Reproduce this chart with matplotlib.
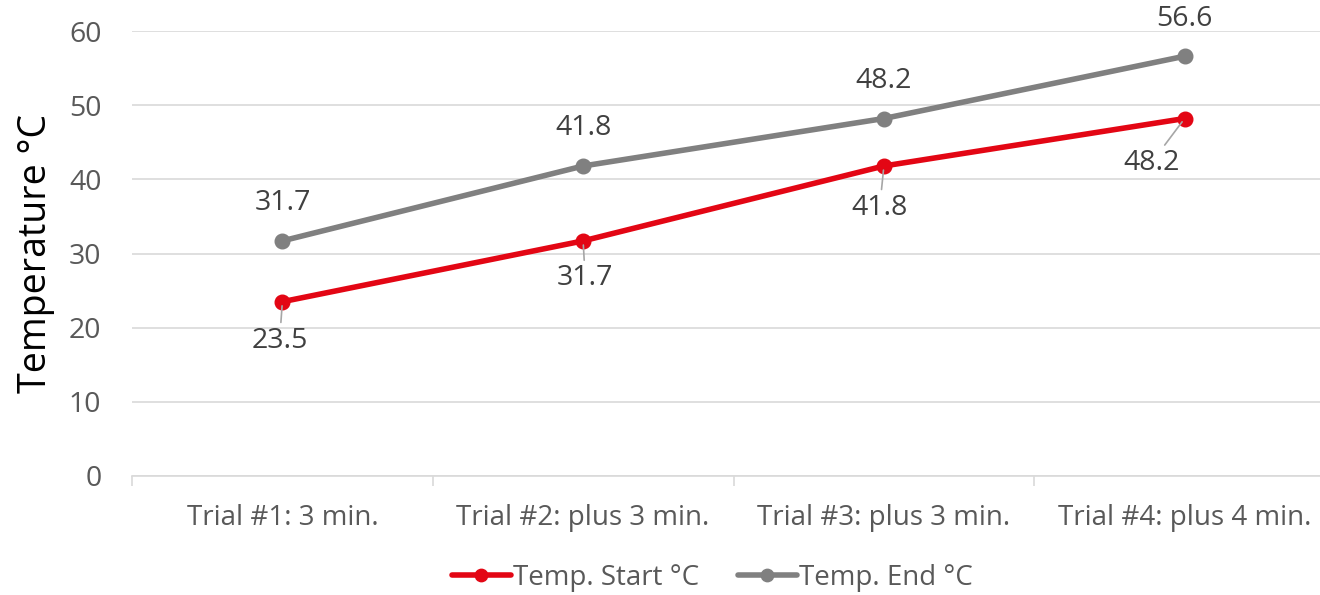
import matplotlib.pyplot as plt
import numpy as np

plt.rcParams['font.family'] = ['Open Sans', 'DejaVu Sans']

categories = ['Trial #1: 3 min.', 'Trial #2: plus 3 min.', 'Trial #3: plus 3 min.', 'Trial #4: plus 4 min.']
temp_start = [23.5, 31.7, 41.8, 48.2]
temp_end = [31.7, 41.8, 48.2, 56.6]

red = '#e30614'
grey = '#808080'
txt = '#595959'

fig = plt.figure(figsize=(13.2, 5.95), dpi=100)
ax = fig.add_axes([132/1320, 1-476/595, (1335-132)/1320, (476-31)/595])

x = np.arange(len(categories))
ax.plot(x, temp_start, color=red, lw=4, marker='o', ms=10.5, label='Temp. Start °C', solid_capstyle='round', zorder=3)
ax.plot(x, temp_end, color=grey, lw=4, marker='o', ms=10.5, label='Temp. End °C', solid_capstyle='round', zorder=3)

# labels over the end series
for xi, v in zip(x, temp_end):
    ax.annotate('%.1f' % v, (xi, v), xytext=(0, 27), textcoords='offset points',
                ha='center', va='center', fontsize=20.5, color='#404040')

# labels under the start series, with leader lines
offs = [(-2, -28), (1.5, -27), (-3, -30), (-24, -32)]
for xi, v, (dx, dy) in zip(x, temp_start, offs):
    ax.annotate('%.1f' % v, (xi, v), xytext=(dx, dy), textcoords='offset points',
                ha='center', va='center', fontsize=20.5, color='#404040',
                arrowprops=dict(arrowstyle='-', color='#a6a6a6', lw=1.2, shrinkA=1, shrinkB=3))

ax.set_xlim(-0.5, 3.5)
ax.set_ylim(0, 60)
ax.set_yticks(range(0, 61, 10))
ax.set_xticks(x)
ax.set_xticklabels(categories)
ax.set_xticks(np.arange(-0.5, 3.6, 1), minor=True)
ax.tick_params(axis='x', which='major', length=0, pad=20, labelsize=20, labelcolor=txt)
ax.tick_params(axis='x', which='minor', length=7, color='#d9d9d9', width=1.2)
ax.tick_params(axis='y', length=0, pad=22, labelsize=20.5, labelcolor=txt)
ax.grid(axis='y', color='#d9d9d9', lw=1.2)
ax.set_axisbelow(True)
for s in ['top', 'right', 'left']:
    ax.spines[s].set_visible(False)
ax.spines['bottom'].set_color('#d9d9d9')
ax.spines['bottom'].set_linewidth(1.2)
ax.set_ylabel('Temperature °C', fontsize=27, color='black', labelpad=10)

leg = fig.legend(loc='center', bbox_to_anchor=(712/1320, 1-578/595), ncol=2, frameon=False,
                 fontsize=20, handlelength=2.15, handletextpad=0.05, columnspacing=1.4,
                 markerscale=0.85)
for t in leg.get_texts():
    t.set_color(txt)

fig.savefig('out.png', dpi=100)
